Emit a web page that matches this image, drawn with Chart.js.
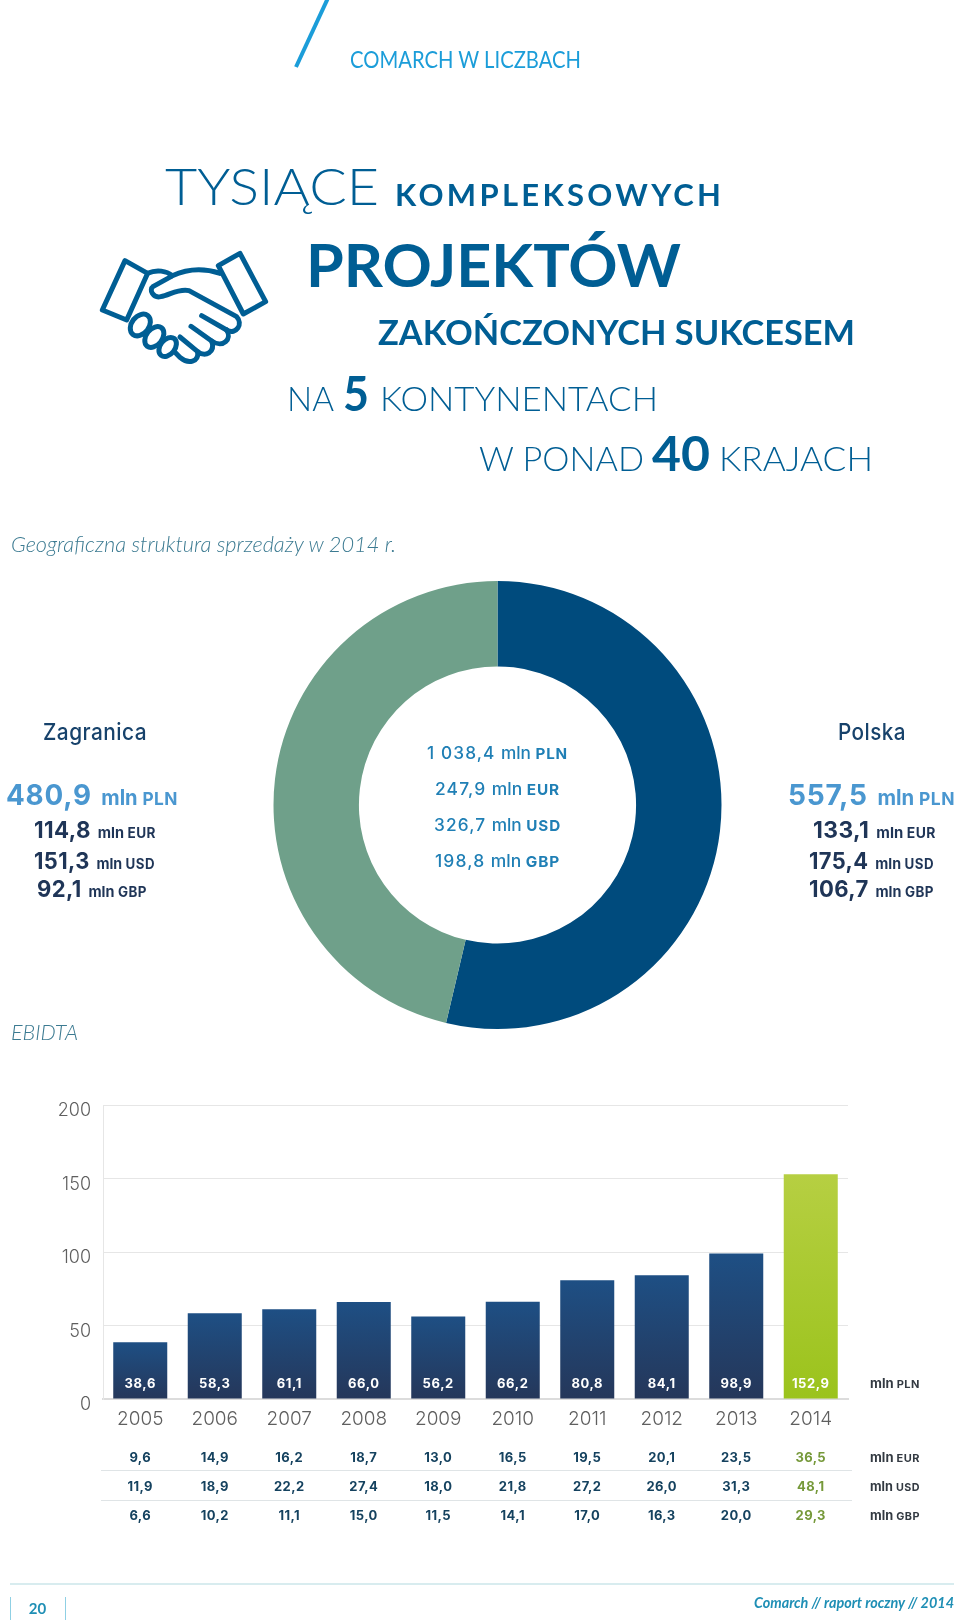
<!DOCTYPE html>
<html lang="pl">
<head>
<meta charset="utf-8">
<title>Comarch w liczbach</title>
<script src="https://cdn.jsdelivr.net/npm/chart.js@4/dist/chart.umd.min.js"></script>
<style>
html,body{margin:0;padding:0;background:#fff;width:960px;height:1622px;overflow:hidden}
canvas{position:absolute;display:block}
#overlay{position:absolute;left:0;top:0;width:960px;height:1622px}
#donut{left:272px;top:579px}
#bars{left:0;top:1090px}
</style>
</head>
<body>
<canvas id="donut" width="451" height="452"></canvas>
<canvas id="bars" width="960" height="350"></canvas>
<svg id="overlay" xmlns="http://www.w3.org/2000/svg" viewBox="0 0 960 1622"></svg>
<script>
// ---------- data ----------
const donutLabels = ['Polska', 'Zagranica'];
const donutValues = [557.5, 480.9];
const totalTexts = ['1 038,4', '247,9', '326,7', '198,8'];
const polskaTexts = ['557,5', '133,1', '175,4', '106,7'];
const zagranicaTexts = ['480,9', '114,8', '151,3', '92,1'];
const currencies = ['PLN', 'EUR', 'USD', 'GBP'];
const categories = ['2005','2006','2007','2008','2009','2010','2011','2012','2013','2014'];
const ebitdaPln = [38.6, 58.3, 61.1, 66.0, 56.2, 66.2, 80.8, 84.1, 98.9, 152.9];
const ebitdaEur = [9.6, 14.9, 16.2, 18.7, 13.0, 16.5, 19.5, 20.1, 23.5, 36.5];
const ebitdaUsd = [11.9, 18.9, 22.2, 27.4, 18.0, 21.8, 27.2, 26.0, 31.3, 48.1];
const ebitdaGbp = [6.6, 10.2, 11.1, 15.0, 11.5, 14.1, 17.0, 16.3, 20.0, 29.3];
const yTicks = [0, 50, 100, 150, 200];

// ---------- helpers ----------
const FONT_H = 'Lato, "Open Sans", sans-serif';
const FONT_D = 'Inter, Roboto, sans-serif';
const fmt = v => v.toFixed(1).replace('.', ',');
const NS = 'http://www.w3.org/2000/svg';
const svg = document.getElementById('overlay');

function text(x, y, parts, o = {}) {
  const t = document.createElementNS(NS, 'text');
  t.setAttribute('x', x); t.setAttribute('y', y);
  t.setAttribute('text-anchor', o.anchor || 'start');
  t.setAttribute('font-family', o.family || FONT_H);
  t.style.whiteSpace = 'pre';
  if (o.italic) t.setAttribute('font-style', 'italic');
  if (o.width) { t.setAttribute('textLength', o.width); t.setAttribute('lengthAdjust', o.adjust || 'spacingAndGlyphs'); }
  parts.forEach(p => {
    const s = document.createElementNS(NS, 'tspan');
    s.textContent = p[0];
    s.setAttribute('font-size', p[1]);
    s.setAttribute('font-weight', p[2]);
    s.setAttribute('fill', p[3]);
    if (p[4]) s.setAttribute('letter-spacing', p[4]);
    t.appendChild(s);
  });
  svg.appendChild(t);
}
function line(x1, y1, x2, y2, color, w) {
  const l = document.createElementNS(NS, 'line');
  l.setAttribute('x1', x1); l.setAttribute('y1', y1);
  l.setAttribute('x2', x2); l.setAttribute('y2', y2);
  l.setAttribute('stroke', color); l.setAttribute('stroke-width', w);
  svg.appendChild(l);
}

// ---------- heading ----------
const BLUE = '#005e94', CYAN = '#1b9dd9';
line(328, -2, 296, 67, CYAN, 4);
text(350, 68, [['COMARCH W LICZBACH', 24, 400, CYAN]], {width: 231});
text(165, 205, [['TYSIĄCE', 52, 300, BLUE]], {width: 214});
text(395, 206, [['KOMPLEKSOWYCH', 31, 700, BLUE]], {width: 326, adjust: 'spacing'});
text(306, 287, [['PROJEKTÓW', 59, 700, BLUE]], {width: 375});
text(378, 345, [['ZAKOŃCZONYCH SUKCESEM', 34, 700, BLUE]], {width: 477});
text(287, 411, [['NA', 33, 300, BLUE]], {width: 47});
text(343, 411, [['5', 48, 700, BLUE]], {width: 26});
text(380, 411, [['KONTYNENTACH', 33, 300, BLUE]], {width: 278});
text(479, 471, [['W PONAD', 33, 300, BLUE]], {width: 165});
text(652, 471, [['40', 48, 700, BLUE]], {width: 58});
text(719, 471, [['KRAJACH', 33, 300, BLUE]], {width: 154});

// handshake icon
const hs = document.createElementNS(NS, 'g');
hs.setAttribute('transform', 'translate(95 245) scale(0.3333)');
hs.setAttribute('fill', 'none'); hs.setAttribute('stroke', BLUE);
hs.setAttribute('stroke-width', '15'); hs.setAttribute('stroke-linejoin', 'round'); hs.setAttribute('stroke-linecap', 'round');
hs.innerHTML = `
<path d="M90 47 L158 85 L95 225 L22 195 Z"/>
<path d="M435 25 L512 170 L445 207 L370 62 Z"/>
<path d="M158 85 C185 72 215 78 232 92 M232 92 C280 70 330 70 375 85"/>
<path d="M228 95 L175 124 C160 135 175 160 197 155 C225 150 250 130 282 137 L425 215 C445 235 425 272 395 255 L320 212"/>
<path d="M288 244 L350 288 C385 312 412 280 395 255"/>
<path d="M350 288 C362 322 330 338 308 320 L255 276"/>
<path d="M308 320 C312 352 280 358 256 338 L240 322"/>
<ellipse cx="136" cy="240" rx="26" ry="36" transform="rotate(38 136 240)"/>
<ellipse cx="178" cy="276" rx="24" ry="35" transform="rotate(38 178 276)"/>
<ellipse cx="218" cy="306" rx="22" ry="32" transform="rotate(38 218 306)"/>`;
svg.appendChild(hs);

// ---------- section titles ----------
const SEC = '#3b7a91';
text(11, 552, [['Geograficzna struktura sprzedaży w 2014 r.', 22, 300, SEC]], {italic: true, width: 385});
text(11, 1040, [['EBIDTA', 22, 300, SEC]], {italic: true, width: 67});

// ---------- side blocks ----------
const NAVY = '#1f3557', LIGHT = '#4a97d0', HEAD = '#17426b', MID = '#1f7fb5';
text(43, 740, [[donutLabels[1], 23, 500, HEAD, '0.5']], {family: FONT_D, width: 104});
text(838, 740, [[donutLabels[0], 23, 500, HEAD, '0.5']], {family: FONT_D, width: 68});
const mln = (v, sz, u, col, sp) => [[v, sz[0], 700, col, sp], ['  ', sz[1], 700, col], ['mln ', sz[1], 700, col], [u, sz[2], 700, col, '0.5']];
const rowY = [805, 838, 869, 897];
const zagX = [[6, 172], [34, 122], [34, 121], [37, 110]];
const polX = [[788, 167], [813, 123], [809, 125], [809, 125]];
[zagranicaTexts, polskaTexts].forEach((arr, k) => {
  const xs = k ? polX : zagX;
  arr.forEach((v, i) => {
    const sz = i ? [23, 15, 14] : [29, 21, 18];
    text(xs[i][0], rowY[i], mln(v, sz, currencies[i], i ? NAVY : LIGHT, i ? '0.4' : '0.8'), {family: FONT_D, width: xs[i][1]});
  });
});
const totX = [[427, 141], [435, 125], [434, 127], [435, 125]];
const totY = [759, 795, 831, 867];
totalTexts.forEach((v, i) => {
  text(totX[i][0], totY[i], [[v, 17, 500, MID, '1.1'], [' ', 20, 500, MID], ['mln ', 17, 500, MID], [currencies[i], 15, 700, MID, '0.8']], {family: FONT_D, width: totX[i][1]});
});

// ---------- doughnut ----------
new Chart(document.getElementById('donut'), {
  type: 'doughnut',
  data: { labels: donutLabels, datasets: [{ data: donutValues, backgroundColor: ['#004b7d', '#6fa08a'], borderWidth: 0 }] },
  options: {
    responsive: false, animation: false, radius: 224, cutout: 139.5,
    plugins: { legend: { display: false }, tooltip: { enabled: false } }
  }
});

// ---------- bars ----------
function barFill(ctx) {
  const i = ctx.dataIndex, chart = ctx.chart, last = i === ebitdaPln.length - 1;
  const top = last ? '#b6cf42' : '#1e4f84', bot = last ? '#9bc31c' : '#25375a';
  if (!chart.chartArea || !chart.scales.y || i === undefined) return top;
  const g = chart.ctx.createLinearGradient(0, chart.scales.y.getPixelForValue(ebitdaPln[i]), 0, chart.scales.y.getPixelForValue(0));
  g.addColorStop(0, top); g.addColorStop(1, bot);
  return g;
}
const valueLabels = {
  id: 'valueLabels',
  afterDatasetsDraw(chart) {
    const c = chart.ctx, meta = chart.getDatasetMeta(0), base = chart.scales.y.getPixelForValue(0);
    c.save();
    c.font = '700 13px Inter, Roboto, sans-serif';
    c.letterSpacing = '0.6px';
    c.textAlign = 'center'; c.textBaseline = 'alphabetic'; c.fillStyle = '#ffffff';
    meta.data.forEach((el, i) => c.fillText(fmt(ebitdaPln[i]), el.x, base - 11));
    c.restore();
  }
};
const barChart = new Chart(document.getElementById('bars'), {
  type: 'bar',
  data: { labels: categories, datasets: [{ data: ebitdaPln, backgroundColor: barFill, borderWidth: 0, categoryPercentage: 1, barPercentage: 0.725 }] },
  options: {
    responsive: false, animation: false,
    layout: { padding: { top: 15, right: 112, left: 0, bottom: 0 } },
    plugins: { legend: { display: false }, tooltip: { enabled: false } },
    scales: {
      x: {
        afterFit: s => { s.height = 41; s.paddingLeft = 0; s.paddingRight = 0; },
        grid: { display: false, drawTicks: false },
        border: { color: '#dcdcdc', width: 2 },
        ticks: { color: '#5f5f5f', padding: 9, maxRotation: 0, font: { family: 'Inter', size: 19, weight: 300 } }
      },
      y: {
        min: yTicks[0], max: yTicks[yTicks.length - 1],
        afterFit: s => { s.width = 103; s.paddingTop = 0; s.paddingBottom = 0; },
        grid: { color: '#e6e6e6', drawTicks: false },
        border: { color: '#e6e6e6', width: 1 },
        ticks: { stepSize: yTicks[1] - yTicks[0], color: '#5f5f5f', padding: 12, labelOffset: 6, font: { family: 'Inter', size: 18, weight: 300 } }
      }
    }
  },
  plugins: [valueLabels]
});

// ---------- table under the bars ----------
const rows = [ebitdaEur, ebitdaUsd, ebitdaGbp];
const tableY = [1462, 1491, 1520];
const sc = barChart.scales.x;
rows.forEach((r, k) => {
  r.forEach((v, i) => {
    text(sc.getPixelForValue(i), tableY[k], [[fmt(v), 13, 700, i === r.length - 1 ? '#76993a' : '#15425f', '0.4']], {anchor: 'middle', family: FONT_D});
  });
});
line(101, 1470.5, 852, 1470.5, '#dfe4e6', 1);
line(101, 1500.5, 852, 1500.5, '#dfe4e6', 1);
const unitColor = '#333a42';
[1388, 1462, 1491, 1520].forEach((y, i) => {
  text(870, y, [['mln ', 13, 700, unitColor], [currencies[i], 11, 700, unitColor, '0.5']], {family: FONT_D, width: 50});
});

// ---------- footer ----------
line(10, 1584, 954, 1584, '#d8ecef', 2);
line(10.5, 1597, 10.5, 1620, '#8fd0e4', 1);
line(65.5, 1597, 65.5, 1620, '#8fd0e4', 1);
text(37.5, 1614, [['20', 15, 700, '#1f8fb5']], {anchor: 'middle'});
text(754, 1608, [['Comarch // raport roczny // 2014', 15, 700, '#1f8fb5']], {italic: true, width: 200});
</script>
</body>
</html>
